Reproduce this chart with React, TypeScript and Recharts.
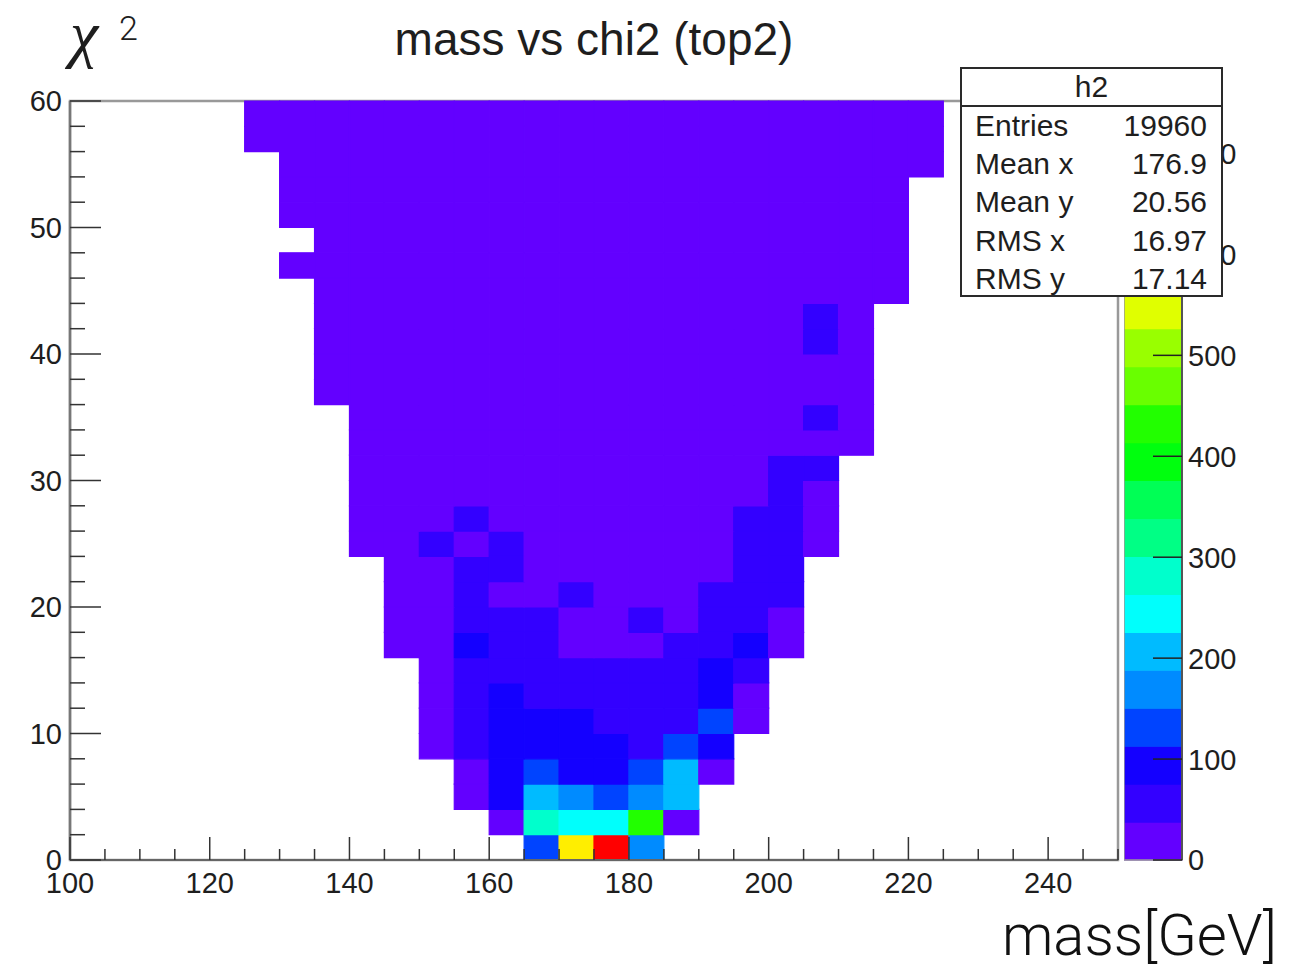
import React from 'react';
import { ScatterChart, XAxis, YAxis, ReferenceArea } from 'recharts';

// axis ticks (every 5 GeV / every 2 in chi2), labels on the majors
const MASS_TICKS = [100, 105, 110, 115, 120, 125, 130, 135, 140, 145, 150, 155, 160, 165, 170, 175, 180, 185, 190, 195, 200, 205, 210, 215, 220, 225, 230, 235, 240, 245, 250];
const CHI2_TICKS = [0, 2, 4, 6, 8, 10, 12, 14, 16, 18, 20, 22, 24, 26, 28, 30, 32, 34, 36, 38, 40, 42, 44, 46, 48, 50, 52, 54, 56, 58, 60];
const MASS_LABELS = [100, 120, 140, 160, 180, 200, 220, 240];
const CHI2_LABELS = [0, 10, 20, 30, 40, 50, 60];
const Z_TICKS = [0, 100, 200, 300, 400, 500, 600, 700];

const MASS_BIN = 5;
const CHI2_BIN = 2;
const Z_MAX = 752;

// first mass bin (lower edge) of each chi2 row, row 0 = chi2 0-2
const ROW_START = [165, 160, 155, 155, 150, 150, 150, 150, 145, 145, 145, 145, 140, 140, 140, 140, 140, 140, 135, 135, 135, 135, 135, 130, 135, 130, 130, 130, 125, 125];

// bin contents of each chi2 row, starting at ROW_START
const ROW_COUNTS = [
  [130, 585, 752, 170],
  [25, 280, 245, 240, 425, 30],
  [32, 95, 205, 170, 130, 165, 210],
  [30, 95, 125, 100, 90, 135, 200, 28],
  [28, 60, 95, 100, 92, 88, 65, 125, 85],
  [25, 55, 88, 85, 80, 60, 58, 62, 118, 30],
  [24, 52, 82, 58, 55, 50, 52, 48, 80, 27],
  [22, 48, 45, 50, 47, 44, 46, 42, 78, 40],
  [20, 25, 80, 45, 42, 34, 33, 35, 44, 42, 80, 30],
  [18, 24, 44, 42, 40, 32, 30, 41, 33, 43, 40, 28],
  [17, 22, 43, 34, 31, 40, 34, 33, 35, 42, 41, 39],
  [16, 24, 40, 42, 33, 32, 34, 30, 33, 35, 41, 39],
  [14, 17, 40, 33, 41, 30, 31, 32, 29, 31, 33, 42, 40, 28],
  [13, 16, 26, 40, 30, 29, 28, 30, 28, 27, 30, 39, 41, 27],
  [12, 15, 22, 27, 28, 27, 26, 27, 26, 25, 26, 30, 40, 24],
  [11, 14, 20, 24, 25, 24, 25, 24, 23, 24, 25, 29, 39, 40],
  [10, 13, 18, 22, 23, 22, 23, 22, 21, 22, 23, 24, 25, 23, 12],
  [10, 12, 17, 20, 21, 21, 22, 21, 20, 21, 22, 23, 24, 38, 14],
  [6, 10, 12, 16, 19, 20, 20, 21, 20, 19, 20, 21, 22, 23, 25, 13],
  [6, 9, 11, 15, 18, 19, 19, 20, 19, 18, 19, 20, 21, 22, 24, 12],
  [5, 9, 11, 14, 17, 18, 18, 19, 18, 18, 18, 19, 20, 21, 39, 11],
  [5, 8, 10, 14, 16, 17, 17, 18, 17, 17, 18, 18, 19, 20, 38, 11],
  [5, 8, 10, 13, 15, 16, 16, 17, 16, 16, 17, 17, 18, 19, 20, 14, 6],
  [2, 5, 8, 9, 12, 14, 15, 15, 16, 15, 15, 16, 16, 17, 18, 18, 13, 6],
  [4, 7, 9, 12, 14, 14, 15, 15, 14, 15, 15, 16, 16, 17, 17, 12, 5],
  [2, 4, 7, 9, 11, 13, 14, 14, 15, 14, 14, 15, 15, 16, 16, 16, 11, 5],
  [2, 4, 6, 9, 11, 12, 13, 14, 14, 14, 14, 14, 15, 15, 16, 15, 11, 5],
  [2, 4, 6, 8, 10, 12, 13, 13, 14, 13, 13, 14, 14, 15, 15, 15, 10, 5, 2],
  [1, 2, 4, 6, 8, 10, 11, 12, 13, 13, 13, 13, 14, 14, 14, 14, 14, 10, 5, 2],
  [1, 2, 3, 6, 8, 9, 11, 12, 12, 12, 12, 13, 13, 13, 13, 13, 13, 9, 5, 2],
];

// old ROOT "pretty" palette, 20 contours
const PALETTE = ['#6300ff', '#3300ff', '#1400ff', '#0044ff', '#008bff', '#00bbff', '#00fffc', '#00ffcc', '#00ff85', '#00ff55', '#00ff0e', '#22ff00', '#69ff00', '#99ff00', '#e0ff00', '#ffee00', '#ffa700', '#ff7700', '#ff3000', '#ff0000'];

const STAT_NAMES = ['Entries', 'Mean x', 'Mean y', 'RMS x', 'RMS y'];
const STAT_VALUES = ['19960', '176.9', '20.56', '16.97', '17.14'];

const TEXT = '#1e1e1e';
const FONT = '"Liberation Sans", Arial, Helvetica, sans-serif';

const colorOf = (z: number) => PALETTE[Math.min(PALETTE.length - 1, Math.floor((z / Z_MAX) * PALETTE.length))];

const bins = ROW_COUNTS.flatMap((row, j) =>
  row.map((z, i) => ({ x: ROW_START[j] + i * MASS_BIN, y: j * CHI2_BIN, z }))
);

function MassTick(props: any) {
  const { x, y, payload } = props;
  const v = payload.value;
  const major = MASS_LABELS.includes(v);
  return (
    <g>
      <line x1={x} x2={x} y1={y} y2={y - (major ? 23 : 11)} stroke="#333" strokeWidth={1.5} />
      {major && (
        <text x={x} y={y + 33} textAnchor="middle" fontSize={29} fill={TEXT}>
          {v}
        </text>
      )}
    </g>
  );
}

function Chi2Tick(props: any) {
  const { x, y, payload } = props;
  const v = payload.value;
  const major = CHI2_LABELS.includes(v);
  return (
    <g>
      <line x1={x} x2={x + (major ? 31 : 15)} y1={y} y2={y} stroke="#333" strokeWidth={1.5} />
      {major && (
        <text x={x - 8} y={y} dy="0.36em" textAnchor="end" fontSize={29} fill={TEXT}>
          {v}
        </text>
      )}
    </g>
  );
}

function ZTick(props: any) {
  const { x, y, payload } = props;
  return (
    <g>
      <line x1={x - 29} x2={x} y1={y} y2={y} stroke="#222" strokeWidth={1.5} />
      <text x={x + 6} y={y} dy="0.36em" textAnchor="start" fontSize={29} fill={TEXT}>
        {payload.value}
      </text>
    </g>
  );
}

export default function App() {
  return (
    <div
      style={{
        position: 'absolute',
        left: 0,
        top: 0,
        width: 1289,
        height: 966,
        background: '#fff',
        fontFamily: FONT,
        overflow: 'hidden',
      }}
    >
      <div style={{ position: 'absolute', left: 0, top: 0 }}>
        <ScatterChart width={1140} height={900} margin={{ top: 101, right: 22, bottom: 0, left: 8 }}>
          <XAxis
            type="number"
            dataKey="x"
            domain={[100, 250]}
            ticks={MASS_TICKS}
            interval={0}
            height={40}
            tickSize={0}
            tickMargin={0}
            tickLine={false}
            tick={<MassTick />}
            axisLine={{ stroke: '#666', strokeWidth: 2 }}
            allowDataOverflow
          />
          <YAxis
            type="number"
            dataKey="y"
            domain={[0, 60]}
            ticks={CHI2_TICKS}
            interval={0}
            width={62}
            tickSize={0}
            tickMargin={0}
            tickLine={false}
            tick={<Chi2Tick />}
            axisLine={{ stroke: '#777', strokeWidth: 2.5 }}
            allowDataOverflow
          />
          <ReferenceArea x1={100} x2={250} y1={0} y2={60} fill="none" stroke="#999" strokeWidth={2.5} />
          {bins.map((b) => (
            <ReferenceArea
              key={`${b.x}-${b.y}`}
              x1={b.x}
              x2={b.x + MASS_BIN}
              y1={b.y}
              y2={b.y + CHI2_BIN}
              fill={colorOf(b.z)}
              fillOpacity={1}
              stroke={colorOf(b.z)}
              strokeWidth={1.2}
            />
          ))}
        </ScatterChart>
      </div>

      {/* palette axis */}
      <div style={{ position: 'absolute', left: 1124, top: 0 }}>
        <ScatterChart width={130} height={900} margin={{ top: 101, right: 0, bottom: 40, left: 0 }}>
          <XAxis type="number" dataKey="x" domain={[0, 1]} hide allowDataOverflow />
          <YAxis
            type="number"
            dataKey="z"
            orientation="right"
            domain={[0, Z_MAX]}
            ticks={Z_TICKS}
            interval={0}
            width={72}
            tickSize={0}
            tickMargin={0}
            tickLine={false}
            tick={<ZTick />}
            axisLine={{ stroke: '#555', strokeWidth: 2 }}
            allowDataOverflow
          />
          {PALETTE.map((c, k) => (
            <ReferenceArea
              key={c}
              x1={0}
              x2={1}
              y1={(k * Z_MAX) / PALETTE.length}
              y2={((k + 1) * Z_MAX) / PALETTE.length}
              fill={c}
              fillOpacity={1}
              stroke={c}
              strokeWidth={1.2}
            />
          ))}
          <ReferenceArea x1={0} x2={1} y1={0} y2={Z_MAX} fill="none" stroke="#999" strokeWidth={1.5} />
        </ScatterChart>
      </div>

      <svg width={1289} height={966} style={{ position: 'absolute', left: 0, top: 0, pointerEvents: 'none' }}>
        <text x={594} y={55} textAnchor="middle" fontSize={46} fill={TEXT}>
          mass vs chi2 (top2)
        </text>
        <text x={70} y={55} fontSize={64} fontStyle="italic" fontFamily='"Liberation Serif", "Times New Roman", serif' fill={TEXT}>
          χ
        </text>
        <text x={119} y={40} fontSize={34} fontFamily='Roboto, sans-serif' fontWeight={300} fill={TEXT}>
          2
        </text>
        <text x={1277} y={955} textAnchor="end" fontSize={58} fontFamily='Roboto, sans-serif' fontWeight={300} fill="#111">
          mass[GeV]
        </text>
      </svg>

      {/* stats box */}
      <div
        style={{
          position: 'absolute',
          left: 960,
          top: 67,
          width: 263,
          height: 230,
          boxSizing: 'border-box',
          border: '2px solid #2a2a2a',
          background: '#fff',
          color: TEXT,
          fontSize: 30,
        }}
      >
        <div style={{ height: 36, lineHeight: '36px', textAlign: 'center', borderBottom: '2px solid #2a2a2a' }}>h2</div>
        {STAT_NAMES.map((name, i) => (
          <div
            key={name}
            style={{ height: 38.2, lineHeight: '38.2px', display: 'flex', justifyContent: 'space-between', padding: '0 14px 0 13px' }}
          >
            <span>{name}</span>
            <span>{STAT_VALUES[i]}</span>
          </div>
        ))}
      </div>
    </div>
  );
}
